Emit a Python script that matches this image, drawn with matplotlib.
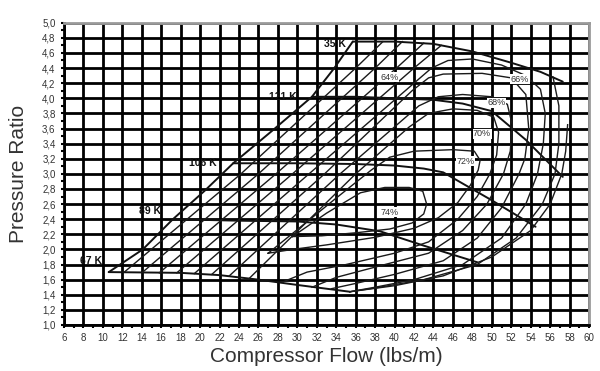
import matplotlib
matplotlib.use("Agg")
import matplotlib.pyplot as plt
from matplotlib.ticker import MultipleLocator

plt.rcParams['font.family'] = ['Liberation Sans', 'DejaVu Sans']

# ---- axis ticks ----
x_ticks = [6, 8, 10, 12, 14, 16, 18, 20, 22, 24, 26, 28, 30, 32, 34, 36, 38, 40,
           42, 44, 46, 48, 50, 52, 54, 56, 58, 60]
y_ticks = [1.0, 1.2, 1.4, 1.6, 1.8, 2.0, 2.2, 2.4, 2.6, 2.8, 3.0, 3.2, 3.4, 3.6,
           3.8, 4.0, 4.2, 4.4, 4.6, 4.8, 5.0]
y_tick_labels = ["1,0", "1,2", "1,4", "1,6", "1,8", "2,0", "2,2", "2,4", "2,6", "2,8",
                 "3,0", "3,2", "3,4", "3,6", "3,8", "4,0", "4,2", "4,4", "4,6", "4,8", "5,0"]

# ---- surge line ----
surge_x = [10.6, 14.1, 17.2, 20.5, 23.4, 27.5, 31.5, 33.8, 35.7]
surge_y = [1.70, 2.00, 2.40, 2.78, 3.14, 3.58, 4.02, 4.40, 4.75]

# ---- speed lines ----
k135_x = [35.7, 40, 44, 48, 52, 55, 57.3]
k135_y = [4.75, 4.75, 4.72, 4.62, 4.47, 4.35, 4.22]
k121_x = [31.5, 36, 40, 44, 47, 50, 53.5, 57.3]
k121_y = [4.02, 4.02, 4.00, 3.98, 3.93, 3.83, 3.45, 2.96]
k106_x = [23.4, 30, 36, 40, 43, 45, 50, 54.5]
k106_y = [3.14, 3.14, 3.13, 3.11, 3.07, 3.02, 2.65, 2.30]
k89_x = [17.2, 24, 30, 34, 38.5, 43, 48.5]
k89_y = [2.40, 2.38, 2.37, 2.33, 2.24, 2.05, 1.83]
k67_x = [10.6, 18, 22, 26, 30, 35.4]
k67_y = [1.70, 1.69, 1.66, 1.60, 1.53, 1.44]

speed_labels = ["67 K", "89 K", "106 K", "121 K", "35 K"]
speed_label_x = [9.9, 16.0, 21.7, 29.9, 35.0]
speed_label_y = [1.85, 2.51, 3.14, 4.02, 4.72]

# ---- efficiency contours ----
e56_x = [12.2, 24.2, 36.0, 38.8]
e56_y = [1.70, 3.00, 4.40, 4.75]
e58_x = [14.0, 26.0, 38.0, 40.8]
e58_y = [1.69, 3.00, 4.40, 4.75]
e60a_x = [15.8, 27.8, 40.2, 43.0]
e60a_y = [1.69, 3.00, 4.40, 4.73]
e60b_x = [57.8, 57.6, 57.2, 56.0, 54.0, 50.0, 45.0, 40.0, 35.4]
e60b_y = [3.65, 3.30, 3.00, 2.60, 2.25, 1.90, 1.65, 1.52, 1.44]
e62a_x = [17.6, 29.5, 42.0, 44.8]
e62a_y = [1.69, 3.00, 4.40, 4.70]
e62b_x = [56.3, 56.9, 56.9, 56.5, 55.2, 52.5, 48.5, 43.0, 38.0, 35.4]
e62b_y = [4.28, 3.90, 3.40, 3.00, 2.60, 2.15, 1.80, 1.60, 1.49, 1.44]
e64_x = [19.4, 31.2, 43.8, 45.5, 48, 51, 53.5, 55.0, 55.5, 55.3, 54.7, 53.5, 51, 47, 42, 38, 35.4]
e64_y = [1.68, 3.00, 4.40, 4.50, 4.52, 4.44, 4.30, 4.12, 3.80, 3.40, 3.00, 2.60, 2.15, 1.80, 1.60, 1.50, 1.44]
e66_x = [21.2, 32.8, 41.8, 43.5, 45, 49, 52, 53.5, 53.8, 53.4, 52.8, 51, 48.5, 45, 40, 36, 33.5]
e66_y = [1.67, 3.00, 4.10, 4.27, 4.32, 4.33, 4.27, 4.05, 3.60, 3.20, 3.00, 2.55, 2.15, 1.85, 1.67, 1.55, 1.48]
e68_x = [23.0, 34.4, 42.5, 44.5, 47, 50, 51.6, 52.1, 51.9, 51.2, 49.5, 47, 43.5, 39, 34, 31.5]
e68_y = [1.65, 3.00, 3.90, 4.02, 4.05, 4.02, 3.92, 3.65, 3.30, 3.00, 2.60, 2.25, 1.95, 1.80, 1.63, 1.50]
e70_x = [25.0, 36.0, 41.5, 43.5, 46, 48.5, 50.2, 50.7, 50.5, 49.8, 48.5, 46.5, 43.5, 40, 35, 31, 28.5]
e70_y = [1.61, 3.00, 3.62, 3.80, 3.86, 3.84, 3.75, 3.55, 3.25, 3.00, 2.70, 2.40, 2.10, 1.95, 1.80, 1.70, 1.57]
e72_x = [27.0, 34, 37.6, 39.5, 42, 46, 48.2, 48.8, 48.6, 47.8, 46.5, 44.5, 42, 38, 33, 29.5, 27.0]
e72_y = [1.95, 2.68, 3.05, 3.22, 3.30, 3.32, 3.30, 3.18, 3.05, 2.85, 2.62, 2.42, 2.28, 2.16, 2.06, 2.00, 1.95]
e74_x = [29.5, 33, 36.5, 39, 41.5, 42.9, 43.3, 43.0, 41.8, 39.5, 36, 32.5, 29.5]
e74_y = [2.17, 2.48, 2.75, 2.82, 2.82, 2.77, 2.60, 2.47, 2.35, 2.27, 2.22, 2.18, 2.17]

eff_labels = ["64%", "66%", "68%", "70%", "72%", "74%"]
eff_label_x = [39.5, 52.9, 50.5, 49.0, 47.3, 39.5]
eff_label_y = [4.28, 4.25, 3.94, 3.53, 3.17, 2.49]

fig = plt.figure(figsize=(6.0, 3.71), dpi=100)
ax = fig.add_axes([0.1067, 0.124, 0.875, 0.8148])

ax.set_xlim(6, 60)
ax.set_ylim(1.0, 5.0)
ax.set_xticks(x_ticks)
ax.set_xticklabels([str(v) for v in x_ticks])
ax.set_yticks(y_ticks)
ax.set_yticklabels(y_tick_labels)
ax.xaxis.set_minor_locator(MultipleLocator(1))
ax.yaxis.set_minor_locator(MultipleLocator(0.1))
ax.tick_params(axis='both', which='both', direction='out', length=2, width=1.5,
               labelsize=7, labelcolor='#333333', color='black', pad=4)
ax.grid(True, which='major', color='black', linewidth=2.0, zorder=1)
ax.set_axisbelow(True)
for s in ['left', 'bottom']:
    ax.spines[s].set_color('black')
    ax.spines[s].set_linewidth(2.0)
for s in ['top', 'right']:
    ax.spines[s].set_color('#9a9a9a')
    ax.spines[s].set_linewidth(2.0)

line_kw = dict(color='#111111', linewidth=1.4, zorder=3, solid_capstyle='round')
for xs, ys in [(surge_x, surge_y), (k135_x, k135_y), (k121_x, k121_y),
               (k106_x, k106_y), (k89_x, k89_y), (k67_x, k67_y)]:
    ax.plot(xs, ys, **line_kw)

eff_kw = dict(color='#1a1a1a', linewidth=1.0, zorder=3)
for xs, ys in [(e56_x, e56_y), (e58_x, e58_y), (e60a_x, e60a_y), (e60b_x, e60b_y),
               (e62a_x, e62a_y), (e62b_x, e62b_y), (e64_x, e64_y), (e66_x, e66_y),
               (e68_x, e68_y), (e70_x, e70_y), (e72_x, e72_y), (e74_x, e74_y)]:
    ax.plot(xs, ys, **eff_kw)

for t, x, y in zip(speed_labels, speed_label_x, speed_label_y):
    ax.text(x, y, t, ha='right', va='center', fontsize=7.5, fontweight='bold',
            color='#111111', zorder=5)
for t, x, y in zip(eff_labels, eff_label_x, eff_label_y):
    ax.text(x, y, t, ha='center', va='center', fontsize=6.5, color='#333333', zorder=5,
            bbox=dict(boxstyle='square,pad=0.05', fc='white', ec='none'))

ax.set_xlabel("Compressor Flow (lbs/m)", fontsize=15, color='#333333', labelpad=3)
ax.set_ylabel("Pressure Ratio", fontsize=15, color='#333333', labelpad=10)

fig.savefig("out.png", dpi=100, facecolor='white')
